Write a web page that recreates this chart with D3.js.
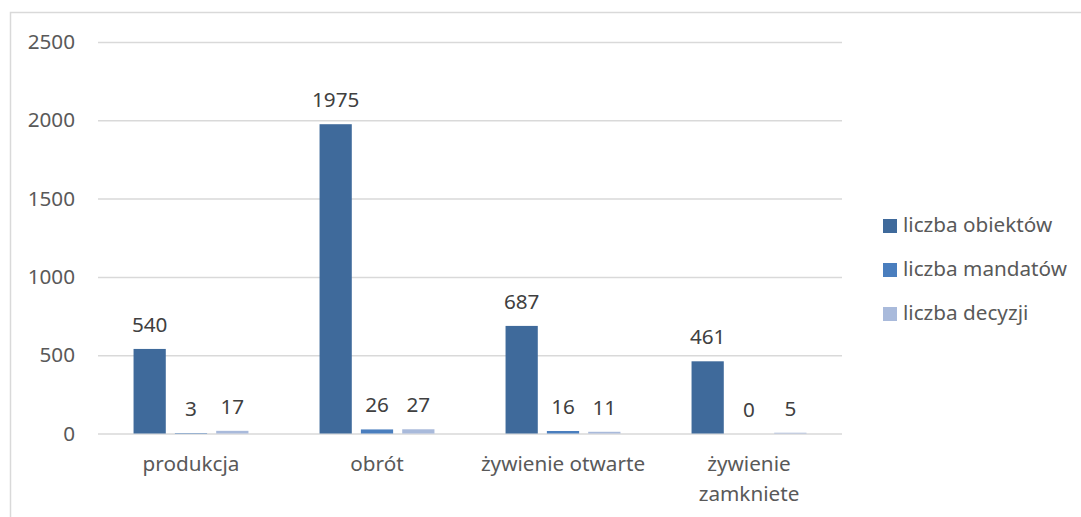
<!DOCTYPE html>
<html>
<head>
<meta charset="utf-8">
<script src="https://cdn.jsdelivr.net/npm/d3@7"></script>
<style>
  body { margin: 0; background: #fff; }
  text { font-family: "Noto Sans", sans-serif; }
</style>
</head>
<body>
<div id="chart"></div>
<script>
// data
var categories = ["produkcja", "obrót", "żywienie otwarte", "żywienie zamkniete"];
var seriesNames = ["liczba obiektów", "liczba mandatów", "liczba decyzji"];
var obiekty = [540, 1975, 687, 461];
var mandaty = [3, 26, 16, 0];
var decyzje = [17, 27, 11, 5];
var yTicks = [0, 500, 1000, 1500, 2000, 2500];

var colors = ["#3f6a9b", "#4a7ebe", "#a9badb"];
var seriesValues = [obiekty, mandaty, decyzje];

var W = 1081, H = 517;
var plot = { left: 98, right: 842, top: 42, bottom: 433.5 };
var fontSize = "20.7px";

var svg = d3.select("#chart").append("svg")
    .attr("width", W)
    .attr("height", H);

// chart area border (right/bottom run off the picture)
svg.append("rect")
    .attr("x", 10.5).attr("y", 12.5)
    .attr("width", W + 20).attr("height", H + 20)
    .style("fill", "none")
    .style("stroke", "#d9d9d9")
    .style("stroke-width", 1.5);

var y = d3.scaleLinear()
    .domain([0, 2500])
    .range([plot.bottom, plot.top]);

var x0 = d3.scaleBand()
    .domain(categories)
    .range([plot.left, plot.right]);

var x1 = d3.scaleBand()
    .domain(seriesNames)
    .range([0, x0.bandwidth()])
    .paddingInner(0.22)
    .paddingOuter(0.86);

// gridlines + y labels
var yAxis = svg.append("g")
    .attr("transform", "translate(" + plot.left + ",0)")
    .call(d3.axisLeft(y)
        .tickValues(yTicks)
        .tickFormat(d3.format("d"))
        .tickSize(-(plot.right - plot.left))
        .tickPadding(23));
yAxis.select(".domain").remove();
yAxis.selectAll("line")
    .style("stroke", "#d9d9d9")
    .style("stroke-width", 1.5);
yAxis.selectAll("text")
    .style("font-size", fontSize)
    .style("fill", "#595959")
    .style("font-family", "'Noto Sans', sans-serif");

// bars
var rows = [];
categories.forEach(function (c, i) {
    seriesNames.forEach(function (s, j) {
        rows.push({ cat: c, series: s, value: seriesValues[j][i], color: colors[j] });
    });
});

svg.selectAll(".bar")
    .data(rows)
    .enter()
    .append("rect")
    .attr("class", "bar")
    .attr("x", d => x0(d.cat) + x1(d.series))
    .attr("y", d => y(d.value))
    .attr("width", x1.bandwidth())
    .attr("height", d => y(0) - y(d.value))
    .style("fill", d => d.color);

// value labels
svg.selectAll(".val")
    .data(rows)
    .enter()
    .append("text")
    .attr("class", "val")
    .attr("x", d => x0(d.cat) + x1(d.series) + x1.bandwidth() / 2)
    .attr("y", d => y(d.value) - 17)
    .attr("text-anchor", "middle")
    .style("font-size", fontSize)
    .style("fill", "#404040")
    .text(d => d.value);

// category labels, wrapped when too wide
var catLabels = svg.selectAll(".cat")
    .data(categories)
    .enter()
    .append("text")
    .attr("class", "cat")
    .attr("x", d => x0(d) + x0.bandwidth() / 2)
    .attr("y", 471)
    .attr("text-anchor", "middle")
    .style("font-size", fontSize)
    .style("fill", "#595959")
    .text(d => d);

catLabels.each(function (d) {
    var t = d3.select(this);
    if (this.getComputedTextLength() > x0.bandwidth() - 10) {
        var words = d.split(" ");
        var cx = t.attr("x");
        t.text(null);
        words.forEach(function (w, k) {
            t.append("tspan").attr("x", cx).attr("dy", k === 0 ? 0 : 30).text(w);
        });
    }
});

// legend
var legend = svg.selectAll(".legend")
    .data(seriesNames)
    .enter()
    .append("g")
    .attr("class", "legend")
    .attr("transform", (d, i) => "translate(883," + (219 + i * 44) + ")");
legend.append("rect")
    .attr("width", 14)
    .attr("height", 14)
    .style("fill", (d, i) => colors[i]);
legend.append("text")
    .attr("x", 20)
    .attr("y", 13)
    .style("font-size", fontSize)
    .style("fill", "#595959")
    .text(d => d);
</script>
</body>
</html>
